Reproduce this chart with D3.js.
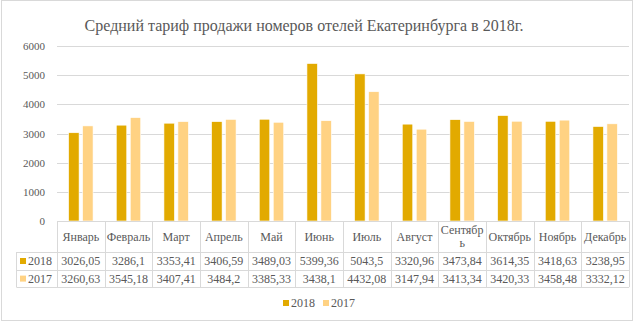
<!DOCTYPE html>
<html>
<head>
<meta charset="utf-8">
<script src="https://cdn.jsdelivr.net/npm/d3@7"></script>
<style>
  body { margin: 0; background: #fff; }
  svg text { font-family: "Liberation Serif", "Times New Roman", serif; fill: #595959; }
</style>
</head>
<body>
<div id="chart"></div>
<script>
var months = ["Январь", "Февраль", "Март", "Апрель", "Май", "Июнь", "Июль", "Август", "Сентябрь", "Октябрь", "Ноябрь", "Декабрь"];
var values2018 = [3026.05, 3286.1, 3353.41, 3406.59, 3489.03, 5399.36, 5043.5, 3320.96, 3473.84, 3614.35, 3418.63, 3238.95];
var values2017 = [3260.63, 3545.18, 3407.41, 3484.2, 3385.33, 3438.1, 4432.08, 3147.94, 3413.34, 3420.33, 3458.48, 3332.12];
var seriesNames = ["2018", "2017"];
var yTicks = [0, 1000, 2000, 3000, 4000, 5000, 6000];

var colors = { "2018": "#E2AA00", "2017": "#FFD283" };
var grid = "#D9D9D9";

var width = 635, height = 323;
var margin = { left: 57, right: 6, top: 46, bottom: 102 };

var svg = d3.select("#chart").append("svg")
    .attr("width", width)
    .attr("height", height);

// outer chart border
svg.append("rect")
    .attr("x", 1.5).attr("y", 0.5)
    .attr("width", 631).attr("height", 320)
    .attr("fill", "none")
    .attr("stroke", grid);

svg.append("text")
    .attr("x", 304)
    .attr("y", 31)
    .attr("text-anchor", "middle")
    .style("font-size", "16px")
    .text("Средний тариф продажи номеров отелей Екатеринбурга в 2018г.");

var x0 = d3.scaleBand()
    .domain(months)
    .range([margin.left, width - margin.right])
    .padding(0);

var x1 = d3.scaleBand()
    .domain(seriesNames)
    .range([0, x0.bandwidth()])
    .paddingInner(0.25)
    .paddingOuter(0.83);

var y = d3.scaleLinear()
    .domain([0, 6000])
    .range([height - margin.bottom, margin.top]);

// gridlines
svg.append("g")
    .selectAll("line")
    .data(yTicks.slice(1))
    .enter()
    .append("line")
    .attr("x1", margin.left)
    .attr("x2", width - margin.right)
    .attr("y1", function(d) { return Math.round(y(d)) + 0.5; })
    .attr("y2", function(d) { return Math.round(y(d)) + 0.5; })
    .attr("stroke", grid)
    .attr("stroke-width", 1);

// y axis labels
var yAxis = d3.axisLeft(y).tickValues(yTicks).tickFormat(d3.format("d")).tickSize(0).tickPadding(0);
var ya = svg.append("g")
    .attr("transform", "translate(" + (margin.left - 12) + ",0)")
    .call(yAxis);
ya.select(".domain").remove();
ya.selectAll("text")
    .style("font-family", "'Liberation Serif', serif")
    .style("font-size", "11px")
    .style("fill", "#595959");

// bars
var rows = months.map(function(m, i) {
    return { month: m, "2018": values2018[i], "2017": values2017[i] };
});

var groups = svg.append("g")
    .selectAll("g")
    .data(rows)
    .enter()
    .append("g")
    .attr("transform", function(d) { return "translate(" + x0(d.month) + ",0)"; });

groups.selectAll("rect")
    .data(function(d) { return seriesNames.map(function(s) { return { key: s, value: d[s] }; }); })
    .enter()
    .append("rect")
    .attr("x", function(d) { return x1(d.key); })
    .attr("width", x1.bandwidth())
    .attr("y", function(d) { return y(d.value); })
    .attr("height", function(d) { return y(0) - y(d.value); })
    .attr("fill", function(d) { return colors[d.key]; })
    .attr("stroke", "#fff")
    .attr("stroke-width", 0.6);

// data table
var tableTop = y(0);
var headerH = 31, rowH = 17.6;
var keyLeft = 16.5;
var right = width - margin.right;
var tbl = svg.append("g").attr("class", "table");

// horizontal lines
var hLines = [
    { y: tableTop, x1: margin.left },
    { y: tableTop + headerH, x1: keyLeft },
    { y: tableTop + headerH + rowH, x1: keyLeft },
    { y: tableTop + headerH + 2 * rowH, x1: keyLeft }
];
tbl.selectAll(".hl")
    .data(hLines)
    .enter()
    .append("line")
    .attr("x1", function(d) { return d.x1; })
    .attr("x2", right)
    .attr("y1", function(d) { return Math.round(d.y) + 0.5; })
    .attr("y2", function(d) { return Math.round(d.y) + 0.5; })
    .attr("stroke", grid);

// vertical lines
var vx = months.map(function(m) { return x0(m); }).concat([right]);
tbl.selectAll(".vl")
    .data(vx)
    .enter()
    .append("line")
    .attr("x1", function(d) { return Math.round(d) + 0.5; })
    .attr("x2", function(d) { return Math.round(d) + 0.5; })
    .attr("y1", tableTop)
    .attr("y2", tableTop + headerH + 2 * rowH)
    .attr("stroke", grid);
tbl.append("line")
    .attr("x1", keyLeft).attr("x2", keyLeft)
    .attr("y1", tableTop + headerH)
    .attr("y2", tableTop + headerH + 2 * rowH)
    .attr("stroke", grid);

// month headers
tbl.selectAll(".mh")
    .data(months)
    .enter()
    .append("text")
    .attr("text-anchor", "middle")
    .style("font-size", "12px")
    .each(function(m) {
        var t = d3.select(this);
        var cx = x0(m) + x0.bandwidth() / 2;
        if (m === "Сентябрь") {
            t.append("tspan").attr("x", cx).attr("y", tableTop + 13).text("Сентябр");
            t.append("tspan").attr("x", cx).attr("y", tableTop + 26).text("ь");
        } else {
            t.attr("x", cx).attr("y", tableTop + 20).text(m);
        }
    });

// value rows
var fmt = function(v) { return String(v).replace(".", ","); };
[values2018, values2017].forEach(function(vals, r) {
    var ty = tableTop + headerH + rowH * r + 13;
    tbl.append("g")
        .selectAll("text")
        .data(vals)
        .enter()
        .append("text")
        .attr("x", function(d, i) { return x0(months[i]) + x0.bandwidth() / 2; })
        .attr("y", ty)
        .attr("text-anchor", "middle")
        .style("font-size", "12px")
        .text(fmt);
    tbl.append("rect")
        .attr("x", 20).attr("y", ty - 7)
        .attr("width", 6).attr("height", 6)
        .attr("fill", colors[seriesNames[r]]);
    tbl.append("text")
        .attr("x", 28).attr("y", ty)
        .style("font-size", "12px")
        .text(seriesNames[r]);
});

// legend
var legend = svg.append("g")
    .selectAll("g")
    .data(seriesNames)
    .enter()
    .append("g")
    .attr("transform", function(d, i) { return "translate(" + (283 + i * 40) + ",0)"; });
legend.append("rect")
    .attr("x", 0).attr("y", 300)
    .attr("width", 6).attr("height", 6)
    .attr("fill", function(d) { return colors[d]; });
legend.append("text")
    .attr("x", 8).attr("y", 307)
    .style("font-size", "12px")
    .text(function(d) { return d; });
</script>
</body>
</html>
